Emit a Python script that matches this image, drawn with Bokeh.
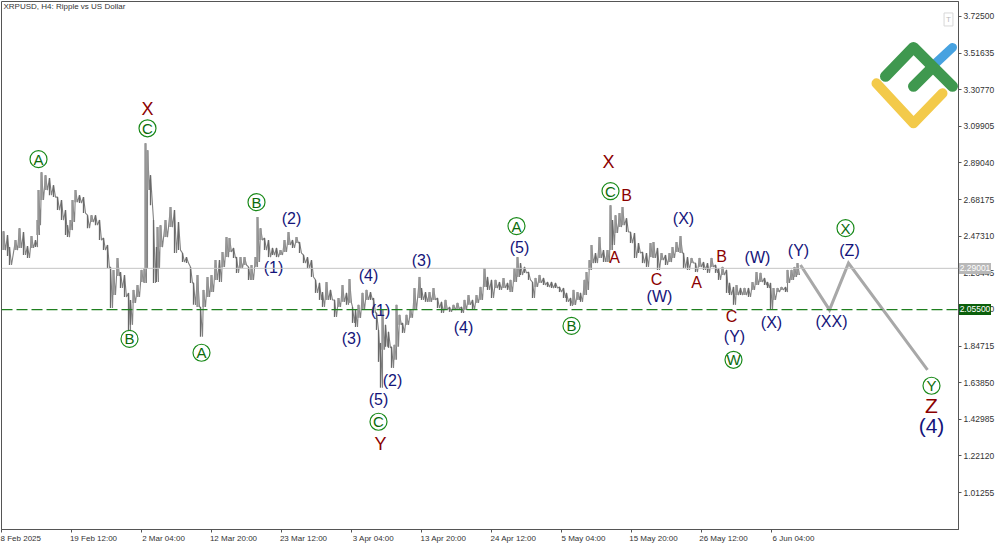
from bokeh.plotting import figure
from bokeh.embed import file_html
from bokeh.resources import INLINE
from bokeh.core.properties import value
from bokeh.layouts import column
from bokeh.models import Range1d, LinearAxis, FixedTicker, NumeralTickFormatter, Label, Span, Div

bars = [3,7,9,15,19,23,27,31,35,37,38,41,45,49,53,57,61,65,67,70,72,75,79,83,87,91,95,99,103,107,110,113,117,120,124,128,130,133,137,141,144,145,147,150,153,156,157,160,165,170,174,178,182,186,190,193,197,200,203,207,211,215,219,222,226,229,233,236,240,244,248,251,255,257,260,264,268,272,276,280,284,288,292,296,299,303,307,311,315,319,322,326,330,334,338,342,346,349,352,355,358,362,366,370,373,376,378,380,382,385,388,391,394,396,399,402,406,410,414,419,421,425,429,433,437,441,445,449,453,457,461,464,468,472,476,480,484,487,491,495,499,503,507,510,514,517,520,524,528,532,535,539,543,547,551,555,559,563,566,570,573,577,580,584,586,589,591,595,599,603,607,610,612,615,619,622,626,630,634,638,642,646,650,653,657,661,665,669,672,676,680,683,687,691,695,699,703,707,711,715,718,722,726,729,733,736,740,744,748,752,756,760,764,767,770,773,777,781,785,787,791,794,797]
highs = [2.502,2.480,2.411,2.451,2.519,2.497,2.417,2.474,2.451,2.565,2.736,2.838,2.821,2.804,2.764,2.696,2.679,2.622,2.536,2.565,2.679,2.736,2.707,2.696,2.593,2.593,2.593,2.565,2.463,2.423,2.298,2.281,2.349,2.269,2.252,2.150,2.110,2.167,2.195,2.281,2.292,3.003,2.963,2.821,2.565,2.411,2.525,2.536,2.565,2.639,2.622,2.554,2.377,2.354,2.298,2.207,2.252,2.070,2.167,2.241,2.252,2.337,2.337,2.383,2.468,2.463,2.406,2.354,2.354,2.354,2.298,2.309,2.354,2.582,2.519,2.463,2.451,2.406,2.406,2.394,2.451,2.497,2.451,2.468,2.440,2.366,2.354,2.337,2.224,2.207,2.155,2.212,2.167,2.110,2.121,2.195,2.150,2.229,2.070,2.053,2.082,2.150,2.167,2.155,2.121,2.036,1.939,1.865,2.053,1.968,1.928,1.843,1.854,2.082,2.025,1.979,2.025,2.053,2.178,2.241,2.178,2.155,2.155,2.178,2.121,2.099,2.110,2.070,2.082,2.093,2.070,2.110,2.138,2.110,2.138,2.184,2.292,2.241,2.224,2.224,2.212,2.235,2.207,2.224,2.292,2.354,2.320,2.298,2.269,2.212,2.235,2.252,2.235,2.212,2.212,2.207,2.184,2.178,2.150,2.121,2.167,2.155,2.150,2.224,2.269,2.337,2.423,2.377,2.468,2.394,2.394,2.650,2.565,2.593,2.605,2.639,2.576,2.497,2.491,2.434,2.383,2.377,2.434,2.440,2.406,2.377,2.366,2.377,2.411,2.440,2.474,2.377,2.354,2.349,2.320,2.349,2.326,2.320,2.349,2.309,2.292,2.298,2.281,2.207,2.184,2.195,2.178,2.178,2.178,2.212,2.269,2.264,2.235,2.212,2.207,2.178,2.178,2.184,2.184,2.281,2.281,2.298,2.320]
lows = [2.394,2.360,2.309,2.394,2.406,2.366,2.349,2.406,2.411,2.480,2.536,2.679,2.736,2.707,2.696,2.622,2.565,2.480,2.468,2.508,2.554,2.667,2.662,2.605,2.519,2.554,2.536,2.451,2.394,2.292,2.064,2.138,2.246,2.178,2.127,1.939,1.968,2.093,2.127,2.212,2.207,2.292,2.736,2.650,2.207,2.212,2.292,2.411,2.468,2.525,2.377,2.394,2.326,2.320,2.207,2.082,2.070,1.900,2.070,2.127,2.155,2.224,2.212,2.298,2.354,2.383,2.349,2.264,2.292,2.309,2.224,2.224,2.298,2.326,2.451,2.394,2.354,2.366,2.354,2.366,2.383,2.423,2.406,2.434,2.377,2.320,2.292,2.241,2.150,2.110,2.070,2.110,2.110,2.013,2.070,2.099,2.082,2.093,1.979,1.956,2.008,2.053,2.110,2.110,2.036,1.939,1.757,1.610,1.826,1.843,1.837,1.723,1.769,1.843,1.968,1.922,1.968,2.008,2.053,2.121,2.110,2.099,2.099,2.110,2.064,2.036,2.053,2.042,2.053,2.059,2.036,2.053,2.082,2.053,2.093,2.110,2.184,2.167,2.121,2.178,2.167,2.178,2.167,2.155,2.212,2.241,2.252,2.264,2.224,2.121,2.184,2.207,2.195,2.184,2.178,2.178,2.155,2.121,2.099,2.076,2.082,2.110,2.099,2.138,2.167,2.281,2.320,2.320,2.349,2.326,2.326,2.394,2.423,2.491,2.525,2.536,2.497,2.434,2.349,2.377,2.320,2.298,2.354,2.349,2.281,2.337,2.309,2.326,2.349,2.383,2.377,2.292,2.281,2.320,2.269,2.298,2.281,2.264,2.298,2.264,2.224,2.252,2.150,2.138,2.082,2.138,2.138,2.138,2.127,2.167,2.195,2.212,2.195,2.178,2.053,2.110,2.155,2.167,2.155,2.207,2.224,2.241,2.252]

forecast_bars = [800,829,848,927]
forecast_prices = [2.309,2.053,2.320,1.712]

current_price = 2.29001
level_price = 2.05500
price_ticks = [3.725,3.51635,3.3077,3.09905,2.8904,2.68175,2.4731,2.26445,2.0558,1.84715,1.6385,1.42985,1.2212,1.01255]
date_ticks = [1,71,141,211,281,351,421,491,561,631,701,771]
date_labels = ["8 Feb 2025","19 Feb 12:00","2 Mar 04:00","12 Mar 20:00","23 Mar 12:00","3 Apr 04:00","13 Apr 20:00","24 Apr 12:00","5 May 04:00","15 May 20:00","26 May 12:00","6 Jun 04:00"]

circled_text = ["A","C","B","A","B","A","B","C","C","W","X","Y"]
circled_x = [38,147,129,201,256,516,571,378,610,733,845,931]
circled_y = [2.912,3.088,1.888,1.809,2.667,2.531,1.962,1.416,2.730,1.769,2.519,1.621]

red_big_text = ["X","Y","X"]
red_big_x = [147,380,608]
red_big_y = [3.196,1.291,2.895]
red_text = ["B","A","C","A","B","C"]
red_x = [626,614,656,696,721,731]
red_y = [2.707,2.354,2.224,2.207,2.360,2.013]

navy_text = ["(1)","(2)","(3)","(4)","(1)","(2)","(5)","(3)","(4)","(5)","(W)","(X)","(W)","(Y)","(X)","(Y)","(XX)","(Z)"]
navy_x = [273,291,351,368,380,392,378,421,463,519,659,683,757,734,771,798,831,849]
navy_y = [2.292,2.576,1.888,2.252,2.047,1.649,1.541,2.332,1.951,2.411,2.127,2.576,2.349,1.900,1.979,2.394,1.985,2.389]

LEFT, TOP, RIGHT, BOTTOM = 1, 1, 958, 530
W, H = 1000, 545
def price_at(py):
    return 3.725 - (py - 16) / 175.85
def py_at(price):
    return 16 + (3.725 - price) * 175.85

p = figure(width=W, height=H, output_backend="svg", toolbar_location=None,
           x_range=Range1d(LEFT, RIGHT), y_range=Range1d(price_at(BOTTOM), price_at(TOP)),
           min_border_left=LEFT, min_border_top=TOP, min_border_right=W-RIGHT, min_border_bottom=H-BOTTOM,
           x_axis_location=None, y_axis_location=None, background_fill_color="white", border_fill_color="white")
p.grid.visible = False
p.outline_line_color = "#555555"
p.outline_line_width = 1

FONT = "Liberation Sans"
ya = LinearAxis(ticker=FixedTicker(ticks=price_ticks), formatter=NumeralTickFormatter(format="0.00000"))
ya.axis_line_color = "#555555"
ya.major_tick_line_color = "#555555"
ya.major_tick_out = 3
ya.major_tick_in = 0
ya.minor_tick_line_color = None
ya.major_label_standoff = 2
ya.major_label_text_font = FONT
ya.major_label_text_font_size = "8.5px"
ya.major_label_text_color = "#333333"
p.add_layout(ya, "right")

half_width = [18 if len(s) == 10 else 22 for s in date_labels]
centers = [t + h for t, h in zip(date_ticks, half_width)]
xa = LinearAxis(ticker=FixedTicker(ticks=centers, minor_ticks=date_ticks))
xa.major_label_overrides = dict(zip(centers, date_labels))
xa.axis_line_color = "#555555"
xa.major_tick_line_color = None
xa.minor_tick_line_color = "#555555"
xa.minor_tick_out = 3
xa.minor_tick_in = 0
xa.major_tick_out = 3
xa.major_tick_in = 0
xa.major_label_standoff = 1
xa.major_label_text_font = FONT
xa.major_label_text_font_size = "8px"
xa.major_label_text_color = "#333333"
p.add_layout(xa, "below")

p.add_layout(Span(location=current_price, dimension="width", line_color="#c4c4c4", line_width=1))
p.add_layout(Span(location=level_price, dimension="width", line_color="#1f7f1f", line_width=1.2, line_dash="11 4"))

mids = [(h + l) / 2 for h, l in zip(highs, lows)]
up = [i == 0 or mids[i] >= mids[i - 1] for i in range(len(mids))]
ux = [b for b, u in zip(bars, up) if u]
uh = [b for b, u in zip(highs, up) if u]
ul = [b for b, u in zip(lows, up) if u]
dx = [b for b, u in zip(bars, up) if not u]
dh = [b for b, u in zip(highs, up) if not u]
dl = [b for b, u in zip(lows, up) if not u]
zx = [v for b in bars for v in (b, b + 2)]
zy = [v for h, l in zip(highs, lows) for v in (h, l)]
p.line(zx, zy, line_color="#828282", line_width=1.1)
p.segment(ux, uh, ux, ul, line_color="#969696", line_width=2.4)
p.segment(dx, dh, dx, dl, line_color="#686868", line_width=1.3)

p.line(forecast_bars, forecast_prices, line_color="#a8a8a8", line_width=3, line_join="miter")

ARIAL = value("Liberation Sans")
p.scatter(circled_x, circled_y, size=17, fill_color="white", line_color="#1a8a1a", line_width=1.2)
p.text(circled_x, circled_y, text=circled_text, text_color="#0b6b0b", text_font=ARIAL, text_font_size="15px",
       text_align="center", text_baseline="middle")
p.text(red_big_x, red_big_y, text=red_big_text, text_color="#8b0000", text_font=ARIAL, text_font_size="18px",
       text_align="center", text_baseline="middle")
p.text(red_x, red_y, text=red_text, text_color="#8b0000", text_font=ARIAL, text_font_size="16px",
       text_align="center", text_baseline="middle")
p.text([931], [1.507], text=["Z"], text_color="#8b0000", text_font=ARIAL, text_font_size="21px",
       text_align="center", text_baseline="middle")
p.text(navy_x, navy_y, text=navy_text, text_color="#14147a", text_font=ARIAL, text_font_size="16px",
       text_align="center", text_baseline="middle")
p.text([931], [1.393], text=["(4)"], text_color="#14147a", text_font=ARIAL, text_font_size="21px",
       text_align="center", text_baseline="middle")

# brand mark, upper right of the plot
bx = lambda s: list(s)
by = lambda s: [price_at(v) for v in s]
p.line(bx([935, 952]), by([63, 47]), line_color="#47a2e0", line_width=9, line_cap="round")
p.line(bx([885, 913, 952]), by([76, 47, 86]), line_color="#3f984f", line_width=11, line_cap="round", line_join="round")
p.line(bx([913, 931]), by([86, 68]), line_color="#3f984f", line_width=11, line_cap="round")
p.line(bx([876, 913, 942]), by([83, 123, 93]), line_color="#f3ca4a", line_width=10, line_cap="round", line_join="round")

p.add_layout(Label(x=3, y=price_at(6), x_units="data", y_units="data", text="XRPUSD, H4:  Ripple vs US Dollar",
                   text_font=FONT, text_font_size="8px", text_color="#333333", text_baseline="middle"))
p.add_layout(Label(x=948, y=price_at(19), text="T", text_font=FONT, text_font_size="8px", text_color="#bbbbbb",
                   text_align="center", text_baseline="middle", border_line_color="#d8d8d8",
                   background_fill_color="white", padding=2))

def price_tag(text, price, bg):
    top = round(py_at(price) - 5.5)
    return Div(text=text, width=32, height=11, margin=0, styles={
        "position": "absolute", "left": "959px", "top": f"{top}px", "background": bg, "color": "white",
        "font-family": "Liberation Sans", "font-size": "8.5px", "line-height": "11px", "text-align": "center",
        "z-index": "10"})

page = column(p, price_tag("2.29001", current_price, "#b8b8b8"), price_tag("2.05500", level_price, "#0b5f0b"),
              spacing=0, margin=0)
open("out.html", "w").write(file_html(page, INLINE))
